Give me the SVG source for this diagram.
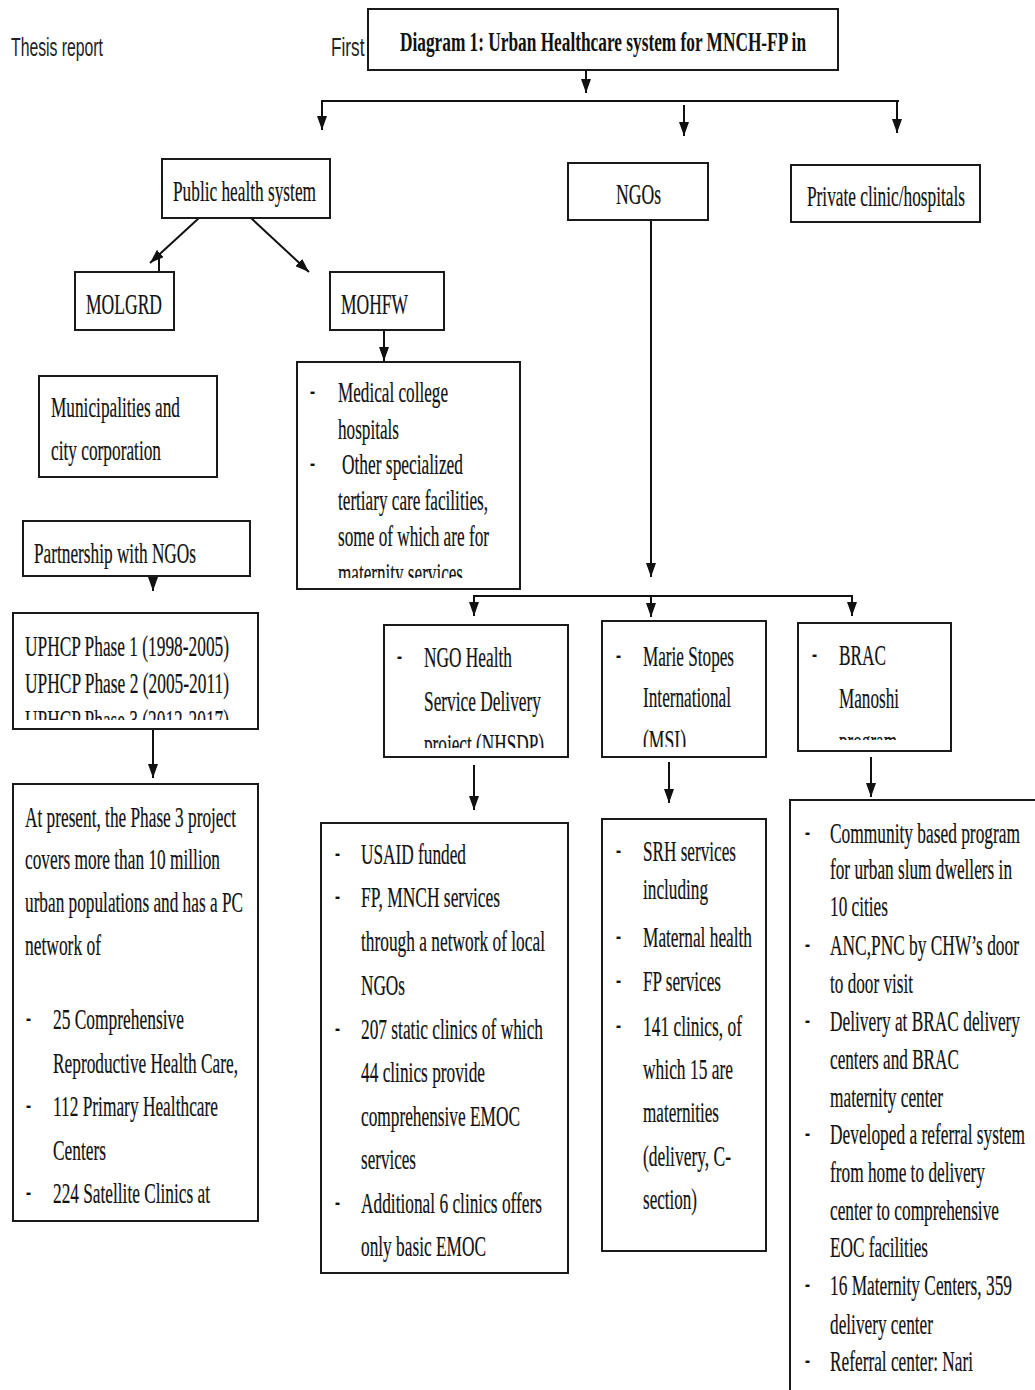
<svg xmlns="http://www.w3.org/2000/svg" width="1035" height="1390" viewBox="0 0 1035 1390">
<style>
.bx{fill:#fff;stroke:#1a1a1a;stroke-width:2}
.t{font-family:"Liberation Serif","Times New Roman",serif;font-size:29px;fill:#111;stroke:#111;stroke-width:0.2}
.tb{font-family:"Liberation Serif","Times New Roman",serif;font-size:27px;font-weight:bold;fill:#111}
.s{font-family:"Liberation Sans",Arial,sans-serif;font-size:26px;fill:#222}
.c{stroke:#111;stroke-width:2;fill:none}
.a{stroke:#111;stroke-width:2;fill:none;marker-end:url(#ah)}
</style>
<defs>
<marker id="ah" viewBox="0 0 14 10" markerWidth="14" markerHeight="10" refX="14" refY="5" orient="auto" markerUnits="userSpaceOnUse">
<path d="M0,0 L14,5 L0,10 z" fill="#111"/>
</marker>
<clipPath id="cMohfw"><rect x="297" y="362" width="223" height="216"/></clipPath>
<clipPath id="cUph"><rect x="13" y="613" width="245" height="107"/></clipPath>
<clipPath id="cNh"><rect x="384" y="625" width="184" height="123"/></clipPath>
<clipPath id="cMsi"><rect x="602" y="621" width="164" height="126"/></clipPath>
<clipPath id="cBr"><rect x="798" y="623" width="153" height="117"/></clipPath>
</defs>
<rect width="1035" height="1390" fill="#fff"/>

<g id="header">
<text class="s" x="11" y="56" textLength="92" lengthAdjust="spacingAndGlyphs">Thesis report</text>
<text class="s" x="331" y="56" textLength="44" lengthAdjust="spacingAndGlyphs">First (</text>
</g>

<g id="title">
<rect class="bx" x="368" y="9" width="470" height="61"/>
<text class="tb" x="400" y="51" textLength="406" lengthAdjust="spacingAndGlyphs">Diagram 1: Urban Healthcare system for MNCH-FP in</text>
</g>

<g id="connectors">
<line class="a" x1="586" y1="70" x2="586" y2="93"/>
<line class="c" x1="321" y1="101" x2="899" y2="101"/>
<line class="a" x1="322" y1="101" x2="322" y2="130"/>
<line class="a" x1="684" y1="105" x2="684" y2="136"/>
<line class="a" x1="897" y1="101" x2="897" y2="133"/>
<line class="a" x1="199" y1="218" x2="150" y2="263"/>
<line class="c" x1="159" y1="256" x2="159" y2="272"/>
<line class="a" x1="251" y1="218" x2="309" y2="272"/>
<line class="a" x1="384" y1="330" x2="384" y2="361"/>
<line class="a" x1="153" y1="576" x2="153" y2="591"/>
<line class="a" x1="153" y1="729" x2="153" y2="778"/>
<line class="a" x1="651" y1="220" x2="651" y2="577"/>
<line class="c" x1="473" y1="596" x2="853" y2="596"/>
<line class="a" x1="474" y1="596" x2="474" y2="616"/>
<line class="a" x1="651" y1="596" x2="651" y2="617"/>
<line class="a" x1="852" y1="596" x2="852" y2="616"/>
<line class="a" x1="474" y1="765" x2="474" y2="810"/>
<line class="a" x1="669" y1="762" x2="669" y2="803"/>
<line class="a" x1="871" y1="757" x2="871" y2="797"/>
</g>

<g id="public">
<rect class="bx" x="162" y="159" width="168" height="59"/>
<text class="t" x="173" y="201" font-size="31" textLength="143" lengthAdjust="spacingAndGlyphs">Public health system</text>
</g>

<g id="ngos">
<rect class="bx" x="568" y="163" width="140" height="57"/>
<text class="t" x="616" y="204" textLength="45" lengthAdjust="spacingAndGlyphs">NGOs</text>
</g>

<g id="private">
<rect class="bx" x="791" y="165" width="189" height="57"/>
<text class="t" x="807" y="206" textLength="158" lengthAdjust="spacingAndGlyphs">Private clinic/hospitals</text>
</g>

<g id="molgrd">
<rect class="bx" x="75" y="272" width="99" height="58"/>
<text class="t" x="86" y="314" textLength="76" lengthAdjust="spacingAndGlyphs">MOLGRD</text>
</g>

<g id="mohfw">
<rect class="bx" x="330" y="272" width="114" height="58"/>
<text class="t" x="341" y="314" textLength="67" lengthAdjust="spacingAndGlyphs">MOHFW</text>
</g>

<g id="mohfw-services">
<rect class="bx" x="297" y="362" width="223" height="227"/>
<g clip-path="url(#cMohfw)">
<text class="t" x="310" y="400" textLength="5" lengthAdjust="spacingAndGlyphs">-</text>
<text class="t" x="338" y="402" textLength="110" lengthAdjust="spacingAndGlyphs">Medical college</text>
<text class="t" x="338" y="439" textLength="61" lengthAdjust="spacingAndGlyphs">hospitals</text>
<text class="t" x="310" y="472" textLength="5" lengthAdjust="spacingAndGlyphs">-</text>
<text class="t" x="342" y="474" textLength="121" lengthAdjust="spacingAndGlyphs">Other specialized</text>
<text class="t" x="338" y="510" textLength="150" lengthAdjust="spacingAndGlyphs">tertiary care facilities,</text>
<text class="t" x="338" y="546" textLength="151" lengthAdjust="spacingAndGlyphs">some of which are for</text>
<text class="t" x="338" y="583" textLength="125" lengthAdjust="spacingAndGlyphs">maternity services</text>
</g>
</g>

<g id="municipalities">
<rect class="bx" x="39" y="376" width="178" height="101"/>
<text class="t" x="51" y="417" textLength="129" lengthAdjust="spacingAndGlyphs">Municipalities and</text>
<text class="t" x="51" y="460" textLength="110" lengthAdjust="spacingAndGlyphs">city corporation</text>
</g>

<g id="partnership">
<rect class="bx" x="23" y="521" width="227" height="55"/>
<text class="t" x="34" y="563" textLength="162" lengthAdjust="spacingAndGlyphs">Partnership with NGOs</text>
</g>

<g id="uphcp">
<rect class="bx" x="13" y="613" width="245" height="116"/>
<g clip-path="url(#cUph)">
<text class="t" x="25" y="656" textLength="204" lengthAdjust="spacingAndGlyphs">UPHCP Phase 1 (1998-2005)</text>
<text class="t" x="25" y="693" textLength="204" lengthAdjust="spacingAndGlyphs">UPHCP Phase 2 (2005-2011)</text>
<text class="t" x="25" y="730" textLength="204" lengthAdjust="spacingAndGlyphs">UPHCP Phase 3 (2012-2017)</text>
</g>
</g>

<g id="phase3">
<rect class="bx" x="13" y="784" width="245" height="437"/>
<text class="t" x="25" y="827" textLength="211" lengthAdjust="spacingAndGlyphs">At present, the Phase 3 project</text>
<text class="t" x="25" y="869" textLength="195" lengthAdjust="spacingAndGlyphs">covers more than 10 million</text>
<text class="t" x="25" y="912" textLength="218" lengthAdjust="spacingAndGlyphs">urban populations and has a PC</text>
<text class="t" x="25" y="955" textLength="76" lengthAdjust="spacingAndGlyphs">network of</text>
<text class="t" x="26" y="1027" textLength="5" lengthAdjust="spacingAndGlyphs">-</text>
<text class="t" x="53" y="1029" textLength="131" lengthAdjust="spacingAndGlyphs">25 Comprehensive</text>
<text class="t" x="53" y="1073" textLength="185" lengthAdjust="spacingAndGlyphs">Reproductive Health Care,</text>
<text class="t" x="26" y="1114" textLength="5" lengthAdjust="spacingAndGlyphs">-</text>
<text class="t" x="53" y="1116" textLength="165" lengthAdjust="spacingAndGlyphs">112 Primary Healthcare</text>
<text class="t" x="53" y="1160" textLength="53" lengthAdjust="spacingAndGlyphs">Centers</text>
<text class="t" x="26" y="1201" textLength="5" lengthAdjust="spacingAndGlyphs">-</text>
<text class="t" x="53" y="1203" textLength="157" lengthAdjust="spacingAndGlyphs">224 Satellite Clinics at</text>
</g>

<g id="nhsdp">
<rect class="bx" x="384" y="625" width="184" height="132"/>
<g clip-path="url(#cNh)">
<text class="t" x="397" y="665" textLength="5" lengthAdjust="spacingAndGlyphs">-</text>
<text class="t" x="424" y="667" textLength="88" lengthAdjust="spacingAndGlyphs">NGO Health</text>
<text class="t" x="424" y="711" textLength="117" lengthAdjust="spacingAndGlyphs">Service Delivery</text>
<text class="t" x="424" y="754" textLength="120" lengthAdjust="spacingAndGlyphs">project (NHSDP)</text>
</g>
</g>

<g id="msi">
<rect class="bx" x="602" y="621" width="164" height="136"/>
<g clip-path="url(#cMsi)">
<text class="t" x="616" y="664" textLength="5" lengthAdjust="spacingAndGlyphs">-</text>
<text class="t" x="643" y="666" textLength="91" lengthAdjust="spacingAndGlyphs">Marie Stopes</text>
<text class="t" x="643" y="707" textLength="88" lengthAdjust="spacingAndGlyphs">International</text>
<text class="t" x="643" y="750" textLength="43" lengthAdjust="spacingAndGlyphs">(MSI)</text>
</g>
</g>

<g id="brac">
<rect class="bx" x="798" y="623" width="153" height="128"/>
<g clip-path="url(#cBr)">
<text class="t" x="812" y="663" textLength="5" lengthAdjust="spacingAndGlyphs">-</text>
<text class="t" x="839" y="665" textLength="47" lengthAdjust="spacingAndGlyphs">BRAC</text>
<text class="t" x="839" y="708" textLength="60" lengthAdjust="spacingAndGlyphs">Manoshi</text>
<text class="t" x="839" y="751" textLength="58" lengthAdjust="spacingAndGlyphs">program</text>
</g>
</g>

<g id="nhsdp-details">
<rect class="bx" x="321" y="823" width="247" height="450"/>
<text class="t" x="335" y="862" textLength="5" lengthAdjust="spacingAndGlyphs">-</text>
<text class="t" x="361" y="864" textLength="105" lengthAdjust="spacingAndGlyphs">USAID funded</text>
<text class="t" x="335" y="905" textLength="5" lengthAdjust="spacingAndGlyphs">-</text>
<text class="t" x="361" y="907" textLength="139" lengthAdjust="spacingAndGlyphs">FP, MNCH services</text>
<text class="t" x="361" y="951" textLength="184" lengthAdjust="spacingAndGlyphs">through a network of local</text>
<text class="t" x="361" y="995" textLength="44" lengthAdjust="spacingAndGlyphs">NGOs</text>
<text class="t" x="335" y="1037" textLength="5" lengthAdjust="spacingAndGlyphs">-</text>
<text class="t" x="361" y="1039" textLength="182" lengthAdjust="spacingAndGlyphs">207 static clinics of which</text>
<text class="t" x="361" y="1082" textLength="124" lengthAdjust="spacingAndGlyphs">44 clinics provide</text>
<text class="t" x="361" y="1126" textLength="159" lengthAdjust="spacingAndGlyphs">comprehensive EMOC</text>
<text class="t" x="361" y="1169" textLength="55" lengthAdjust="spacingAndGlyphs">services</text>
<text class="t" x="335" y="1211" textLength="5" lengthAdjust="spacingAndGlyphs">-</text>
<text class="t" x="361" y="1213" textLength="181" lengthAdjust="spacingAndGlyphs">Additional 6 clinics offers</text>
<text class="t" x="361" y="1256" textLength="125" lengthAdjust="spacingAndGlyphs">only basic EMOC</text>
</g>

<g id="msi-details">
<rect class="bx" x="602" y="819" width="164" height="432"/>
<text class="t" x="616" y="859" textLength="5" lengthAdjust="spacingAndGlyphs">-</text>
<text class="t" x="643" y="861" textLength="93" lengthAdjust="spacingAndGlyphs">SRH services</text>
<text class="t" x="643" y="899" textLength="65" lengthAdjust="spacingAndGlyphs">including</text>
<text class="t" x="616" y="945" textLength="5" lengthAdjust="spacingAndGlyphs">-</text>
<text class="t" x="643" y="947" textLength="109" lengthAdjust="spacingAndGlyphs">Maternal health</text>
<text class="t" x="616" y="989" textLength="5" lengthAdjust="spacingAndGlyphs">-</text>
<text class="t" x="643" y="991" textLength="78" lengthAdjust="spacingAndGlyphs">FP services</text>
<text class="t" x="616" y="1034" textLength="5" lengthAdjust="spacingAndGlyphs">-</text>
<text class="t" x="643" y="1036" textLength="99" lengthAdjust="spacingAndGlyphs">141 clinics, of</text>
<text class="t" x="643" y="1079" textLength="90" lengthAdjust="spacingAndGlyphs">which 15 are</text>
<text class="t" x="643" y="1122" textLength="76" lengthAdjust="spacingAndGlyphs">maternities</text>
<text class="t" x="643" y="1166" textLength="88" lengthAdjust="spacingAndGlyphs">(delivery, C-</text>
<text class="t" x="643" y="1209" textLength="54" lengthAdjust="spacingAndGlyphs">section)</text>
</g>

<g id="brac-details">
<rect class="bx" x="790" y="800" width="300" height="650"/>
<text class="t" x="805" y="841" textLength="5" lengthAdjust="spacingAndGlyphs">-</text>
<text class="t" x="830" y="843" textLength="190" lengthAdjust="spacingAndGlyphs">Community based program</text>
<text class="t" x="830" y="879" textLength="182" lengthAdjust="spacingAndGlyphs">for urban slum dwellers in</text>
<text class="t" x="830" y="916" textLength="58" lengthAdjust="spacingAndGlyphs">10 cities</text>
<text class="t" x="805" y="953" textLength="5" lengthAdjust="spacingAndGlyphs">-</text>
<text class="t" x="830" y="955" textLength="189" lengthAdjust="spacingAndGlyphs">ANC,PNC by CHW’s door</text>
<text class="t" x="830" y="993" textLength="83" lengthAdjust="spacingAndGlyphs">to door visit</text>
<text class="t" x="805" y="1029" textLength="5" lengthAdjust="spacingAndGlyphs">-</text>
<text class="t" x="830" y="1031" textLength="190" lengthAdjust="spacingAndGlyphs">Delivery at BRAC delivery</text>
<text class="t" x="830" y="1069" textLength="129" lengthAdjust="spacingAndGlyphs">centers and BRAC</text>
<text class="t" x="830" y="1107" textLength="113" lengthAdjust="spacingAndGlyphs">maternity center</text>
<text class="t" x="805" y="1142" textLength="5" lengthAdjust="spacingAndGlyphs">-</text>
<text class="t" x="830" y="1144" textLength="195" lengthAdjust="spacingAndGlyphs">Developed a referral system</text>
<text class="t" x="830" y="1182" textLength="155" lengthAdjust="spacingAndGlyphs">from home to delivery</text>
<text class="t" x="830" y="1220" textLength="169" lengthAdjust="spacingAndGlyphs">center to comprehensive</text>
<text class="t" x="830" y="1257" textLength="98" lengthAdjust="spacingAndGlyphs">EOC facilities</text>
<text class="t" x="805" y="1293" textLength="5" lengthAdjust="spacingAndGlyphs">-</text>
<text class="t" x="830" y="1295" textLength="182" lengthAdjust="spacingAndGlyphs">16 Maternity Centers, 359</text>
<text class="t" x="830" y="1334" textLength="103" lengthAdjust="spacingAndGlyphs">delivery center</text>
<text class="t" x="805" y="1369" textLength="5" lengthAdjust="spacingAndGlyphs">-</text>
<text class="t" x="830" y="1371" textLength="143" lengthAdjust="spacingAndGlyphs">Referral center: Nari</text>
</g>
</svg>
